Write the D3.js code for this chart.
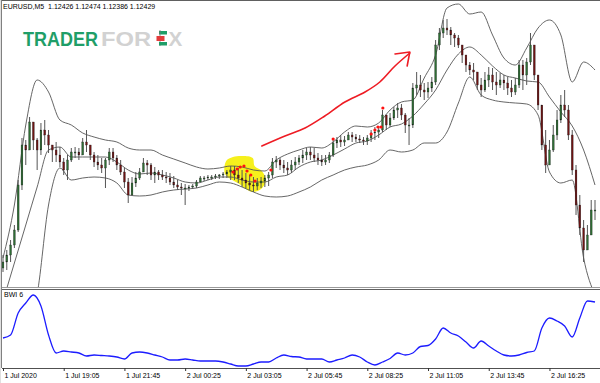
<!DOCTYPE html>
<html><head><meta charset="utf-8">
<script src="https://cdn.jsdelivr.net/npm/d3@7"></script>
<style>body{margin:0;background:#fff}svg{display:block;font-family:"Liberation Sans",Arial,sans-serif}</style>
</head><body><svg id="c" width="600" height="383"></svg>
<script>
// ---------- data ----------
const symbol = "EURUSD,M5";
const lastOHLC = [1.12426, 1.12474, 1.12386, 1.12429];
const indicatorName = "BWI 6";
const timeLabels = ["1 Jul 2020","1 Jul 19:05","1 Jul 21:45","2 Jul 00:25","2 Jul 03:05","2 Jul 05:45","2 Jul 08:25","2 Jul 11:05","2 Jul 13:45","2 Jul 16:25"];
const tickBars = [0,16,32,48,64,80,96,112,128,144];

const firstOpen = 1.1232;
const highs = [1.1245,1.1250,1.1260,1.1275,1.1320,1.1362,1.1360,1.1383,1.1378,1.1362,
1.1377,1.1380,1.1370,1.1355,1.1358,1.1353,1.1342,1.1345,1.1352,1.1353,
1.1352,1.1362,1.1370,1.1355,1.1348,1.1345,1.1342,1.1342,1.1352,1.1352,
1.1345,1.1340,1.1332,1.1322,1.1323,1.1328,1.1332,1.1342,1.1340,1.1337,
1.1333,1.1330,1.1330,1.1328,1.1327,1.1324,1.1320,1.1317,1.1316,1.1315,
1.1316,1.1320,1.1324,1.1324,1.1325,1.1325,1.1326,1.1326,1.1328,1.1330,
1.1334,1.1334,1.1332,1.1330,1.1327,1.1325,1.1323,1.1322,1.1323,1.1325,
1.1328,1.1342,1.1344,1.1342,1.1340,1.1338,1.1340,1.1343,1.1345,1.1350,
1.1352,1.1353,1.1352,1.1347,1.1345,1.1345,1.1348,1.1360,1.1363,1.1365,
1.1364,1.1368,1.1368,1.1366,1.1365,1.1363,1.1365,1.1370,1.1373,1.1374,
1.1390,1.1385,1.1387,1.1393,1.1397,1.1396,1.1387,1.1382,1.1417,1.1428,
1.1425,1.1417,1.1418,1.1423,1.1460,1.1472,1.1480,1.1481,1.1473,1.1467,
1.1465,1.1455,1.1442,1.1438,1.1437,1.1428,1.1422,1.1428,1.1433,1.1432,
1.1428,1.1427,1.1425,1.1423,1.1420,1.1422,1.1440,1.1440,1.1442,1.1467,
1.1455,1.1425,1.1395,1.1370,1.1360,1.1375,1.1390,1.1405,1.1410,1.1395,
1.1370,1.1335,1.1305,1.1280,1.1275,1.1300,1.1300];
const lows = [1.1228,1.1230,1.1238,1.1252,1.1268,1.1310,1.1335,1.1350,1.1350,1.1330,
1.1345,1.1355,1.1347,1.1338,1.1338,1.1333,1.1325,1.1320,1.1338,1.1342,
1.1340,1.1345,1.1348,1.1340,1.1333,1.1330,1.1327,1.1312,1.1335,1.1338,
1.1330,1.1325,1.1312,1.1297,1.1308,1.1313,1.1320,1.1328,1.1325,1.1320,
1.1317,1.1320,1.1320,1.1317,1.1315,1.1312,1.1310,1.1305,1.1295,1.1309,
1.1311,1.1312,1.1318,1.1319,1.1320,1.1320,1.1321,1.1321,1.1322,1.1322,
1.1320,1.1320,1.1317,1.1313,1.1312,1.1310,1.1308,1.1310,1.1312,1.1313,
1.1314,1.1322,1.1332,1.1330,1.1327,1.1325,1.1327,1.1330,1.1335,1.1337,
1.1340,1.1340,1.1338,1.1335,1.1334,1.1335,1.1337,1.1343,1.1352,1.1353,
1.1354,1.1360,1.1358,1.1358,1.1357,1.1355,1.1355,1.1358,1.1360,1.1362,
1.1368,1.1370,1.1373,1.1380,1.1382,1.1380,1.1367,1.1355,1.1372,1.1405,
1.1403,1.1400,1.1402,1.1408,1.1415,1.1450,1.1462,1.1465,1.1455,1.1453,
1.1452,1.1437,1.1428,1.1425,1.1420,1.1410,1.1403,1.1408,1.1413,1.1410,
1.1405,1.1412,1.1410,1.1405,1.1403,1.1405,1.1412,1.1410,1.1415,1.1435,
1.1420,1.1390,1.1350,1.1327,1.1335,1.1348,1.1360,1.1377,1.1383,1.1360,
1.1325,1.1285,1.1265,1.1238,1.1250,1.1265,1.1280];
const closes = [1.1238,1.1245,1.1255,1.1270,1.1315,1.1355,1.1350,1.1378,1.1360,1.1350,
1.1370,1.1365,1.1355,1.1350,1.1345,1.1338,1.1330,1.1340,1.1348,1.1348,
1.1345,1.1358,1.1355,1.1345,1.1338,1.1335,1.1332,1.1340,1.1348,1.1342,
1.1335,1.1328,1.1318,1.1305,1.1317,1.1322,1.1328,1.1337,1.1335,1.1325,
1.1328,1.1325,1.1323,1.1322,1.1318,1.1315,1.1313,1.1312,1.1312,1.1313,
1.1314,1.1318,1.1322,1.1322,1.1323,1.1323,1.1324,1.1325,1.1326,1.1328,
1.1330,1.1325,1.1322,1.1320,1.1317,1.1315,1.1314,1.1317,1.1319,1.1322,
1.1325,1.1338,1.1340,1.1335,1.1332,1.1330,1.1335,1.1338,1.1342,1.1345,
1.1348,1.1345,1.1342,1.1340,1.1338,1.1340,1.1345,1.1357,1.1360,1.1358,
1.1360,1.1365,1.1363,1.1361,1.1360,1.1359,1.1362,1.1367,1.1368,1.1370,
1.1385,1.1375,1.1382,1.1390,1.1392,1.1385,1.1375,1.1375,1.1412,1.1415,
1.1410,1.1408,1.1412,1.1418,1.1455,1.1467,1.1472,1.1470,1.1465,1.1462,
1.1455,1.1445,1.1435,1.1430,1.1428,1.1415,1.1410,1.1420,1.1425,1.1418,
1.1415,1.1420,1.1417,1.1412,1.1408,1.1415,1.1435,1.1425,1.1438,1.1455,
1.1425,1.1395,1.1355,1.1335,1.1350,1.1365,1.1380,1.1395,1.1390,1.1365,
1.1330,1.1295,1.1272,1.1250,1.1265,1.1290,1.1290];

// Bollinger bands, one value every 3 bars
const bandStep = 3;
const upperBand = [1.1242,1.1295,1.1375,1.1420,1.1408,1.1380,1.1375,1.1367,1.1363,1.1360,
1.1358,1.1352,1.1350,1.1350,1.1345,1.1341,1.1337,1.1333,1.1331,1.1332,
1.1334,1.1333,1.1330,1.1329,1.1340,1.1346,1.1350,1.1353,1.1352,1.1358,
1.1368,1.1374,1.1373,1.1377,1.1390,1.1398,1.1400,1.1422,1.1445,1.1492,
1.1496,1.1486,1.1488,1.1465,1.1442,1.1435,1.1452,1.1472,1.1480,1.1465,
1.1418,1.1438,1.1430];
const middleBand = [1.1199,1.1237,1.1275,1.1313,1.1350,1.1353,1.1343,1.1343,1.1343,1.1343,
1.1338,1.1330,1.1326,1.1327,1.1325,1.1322,1.1318,1.1317,1.1320,1.1323,
1.1323,1.1320,1.1318,1.1318,1.1323,1.1325,1.1333,1.1338,1.1340,1.1345,
1.1351,1.1357,1.1359,1.1365,1.1373,1.1376,1.1384,1.1396,1.1410,1.1430,
1.1446,1.1453,1.1445,1.1434,1.1425,1.1422,1.1419,1.1418,1.1403,1.1388,
1.1374,1.1350,1.1315];
const lowerBand = [1.1156,1.1165,1.1175,1.1206,1.1295,1.1332,1.1320,1.1322,1.1323,1.1322,
1.1317,1.1305,1.1304,1.1305,1.1308,1.1310,1.1311,1.1312,1.1315,1.1318,
1.1317,1.1313,1.1308,1.1304,1.1303,1.1304,1.1308,1.1313,1.1320,1.1325,
1.1330,1.1333,1.1335,1.1340,1.1350,1.1348,1.1350,1.1357,1.1357,1.1368,
1.1397,1.1423,1.1405,1.1400,1.1398,1.1397,1.1396,1.1385,1.1328,1.1317,
1.1320,1.1242,1.1205];

// BWI(6), one value every 2 bars
const bwiStep = 2;
const bwiValues = [30,33,55,65,73,62,33,15,17,16,15,12,13,12.5,12,11,9,15,16,15,
13,11,8,8,9,8,7,7,7,6,4,2,2,4,6,6,10,13,11.5,11,
9,9,9,6,8,10,13,11,6,3,6,9.5,15,13,15,21.5,22.5,29,40,35,
32,26,20,27,22,17,13,12,13,15.5,17,40,50,47,42,31,50,67,66];

// red signal dots
const signalBars = [60.6,61.7,62.5,63.5,64.3,65.3,66.4,70.6,87.0,97.0,98.0,98.8,99.6,100.1];
const signalPrices = [1.1328,1.1331,1.1333,1.1334,1.1329,1.1325,1.1319,1.1330,1.1361,1.1366,1.1370,1.1373,1.1373,1.1392];

// hand-drawn annotations (bar index / price)
const arrowBars = [68.2,74.3,79.6,84.8,90.1,95.4,99.3,103.3,107.2];
const arrowPrices = [1.1354,1.1364,1.1372,1.1384,1.1398,1.1408,1.1418,1.1434,1.1447];
const arrowHeadBars = [103.3,107.2,106.5];
const arrowHeadPrices = [1.1446,1.1448,1.1434];
const highlightBars = [58.8,60.6,63.2,65.8,66.3,68.2,69.3,68.0,65.8,64.0,62.3,60.4,58.5];
const highlightPrices = [1.1339,1.1343,1.1344,1.1342,1.1334,1.1329,1.1320,1.1311,1.1308,1.1311,1.1316,1.1320,1.1326];

// ---------- drawing ----------
const svg = d3.select("#c");
const x = d3.scaleLinear().domain([0, highs.length - 1]).range([3, 595]);
const y = d3.scaleLinear().domain([1.1213, 1.1500]).range([287, 0]);
const yb = d3.scaleLinear().domain([0, 78]).range([368, 290]);

const defs = svg.append("defs");
defs.append("clipPath").attr("id","cm").append("rect").attr("x",2).attr("y",1).attr("width",598).attr("height",286);
defs.append("clipPath").attr("id","cb").append("rect").attr("x",2).attr("y",290).attr("width",598).attr("height",78);

// frame
svg.append("line").attr("x1",2).attr("x2",600).attr("y1",0.5).attr("y2",0.5).attr("stroke","#606060");
svg.append("line").attr("x1",1.5).attr("x2",1.5).attr("y1",0).attr("y2",368).attr("stroke","#808080");
svg.append("rect").attr("x",0).attr("y",0).attr("width",1).attr("height",383).attr("fill","#e0e0e0");
svg.append("line").attr("x1",2).attr("x2",600).attr("y1",287.5).attr("y2",287.5).attr("stroke","#9a9a9a");
svg.append("line").attr("x1",2).attr("x2",600).attr("y1",289.5).attr("y2",289.5).attr("stroke","#606060");
svg.append("line").attr("x1",2).attr("x2",600).attr("y1",368.5).attr("y2",368.5).attr("stroke","#505050");

// watermark
const wm = svg.append("g");
wm.append("g").attr("transform","translate(23,46) scale(1,1.17)")
  .append("text").attr("x",0).attr("y",0).attr("font-size",18).attr("font-weight","bold")
  .attr("fill","#1f9e68").text("TRADER");
wm.append("g").attr("transform","translate(101,46) scale(1.32,1.17)")
  .append("text").attr("x",0).attr("y",0).attr("font-size",18).attr("font-weight","bold")
  .attr("fill","#d2d2d2").text("FOR");
wm.append("rect").attr("x",159).attr("y",31).attr("width",8).attr("height",3.5).attr("fill","#1f9e68");
wm.append("line").attr("x1",160).attr("x2",160).attr("y1",30).attr("y2",46).attr("stroke","#777").attr("stroke-width",0.8);
wm.append("rect").attr("x",156.5).attr("y",36).attr("width",8).attr("height",5).attr("fill","#e33b3b");
wm.append("rect").attr("x",159).attr("y",42).attr("width",8).attr("height",3.5).attr("fill","#1f9e68");
wm.append("g").attr("transform","translate(168.5,46) scale(1.15,1.17)")
  .append("text").attr("x",0).attr("y",0).attr("font-size",18).attr("font-weight","bold")
  .attr("fill","#d2d2d2").text("X");

// header
svg.append("text").attr("x",3).attr("y",9).attr("font-size",7).attr("fill","#000")
  .attr("xml:space","preserve")
  .text(symbol + "  " + lastOHLC.map(v => v.toFixed(5)).join(" "));

const main = svg.append("g").attr("clip-path","url(#cm)");

// yellow highlight
main.append("path").datum(d3.zip(highlightBars, highlightPrices))
  .attr("d", d3.line().x(d => x(d[0])).y(d => y(d[1])).curve(d3.curveCatmullRomClosed))
  .attr("fill","#f6f01c");

// bands
[upperBand, middleBand, lowerBand].forEach(b => {
  main.append("path").datum(b)
    .attr("d", d3.line().x((d,i) => x(i * bandStep)).y(d => y(d)).curve(d3.curveMonotoneX))
    .attr("fill","none").attr("stroke","#555").attr("stroke-width",0.9);
});

// candles
const opens = closes.map((c,i) => i === 0 ? firstOpen : closes[i-1]);
const cg = main.append("g");
cg.selectAll("line").data(highs).join("line")
  .attr("x1",(d,i) => x(i)).attr("x2",(d,i) => x(i))
  .attr("y1",d => y(d)).attr("y2",(d,i) => y(lows[i]))
  .attr("stroke","#555").attr("stroke-width",1);
cg.selectAll("rect").data(closes).join("rect")
  .attr("x",(d,i) => x(i) - 0.9).attr("width",1.8)
  .attr("y",(d,i) => y(Math.max(d, opens[i])))
  .attr("height",(d,i) => Math.max(1, Math.abs(y(d) - y(opens[i]))))
  .attr("fill",(d,i) => d >= opens[i] ? "#2e6e34" : "#6e1414")
  .attr("stroke","#1a1a1a").attr("stroke-width",0.3);

// signal dots
main.selectAll("circle.sig").data(signalBars).join("circle").attr("class","sig")
  .attr("cx",d => x(d)).attr("cy",(d,i) => y(signalPrices[i])).attr("r",1.6).attr("fill","#ff1010");

// red arrow
main.append("path").datum(d3.zip(arrowBars, arrowPrices))
  .attr("d", d3.line().x(d => x(d[0])).y(d => y(d[1])).curve(d3.curveCatmullRom))
  .attr("fill","none").attr("stroke","#ee1c24").attr("stroke-width",1.6).attr("stroke-linecap","round");
main.append("path").datum(d3.zip(arrowHeadBars, arrowHeadPrices))
  .attr("d", d3.line().x(d => x(d[0])).y(d => y(d[1])))
  .attr("fill","none").attr("stroke","#ee1c24").attr("stroke-width",1.6).attr("stroke-linecap","round").attr("stroke-linejoin","round");

// BWI panel
svg.append("text").attr("x",4).attr("y",297).attr("font-size",7).attr("fill","#000").text(indicatorName);
svg.append("g").attr("clip-path","url(#cb)").append("path").datum(bwiValues)
  .attr("d", d3.line().x((d,i) => x(i * bwiStep)).y(d => yb(d)).curve(d3.curveMonotoneX))
  .attr("fill","none").attr("stroke","#1c1cff").attr("stroke-width",1.3);

// time axis
const ax = svg.append("g").attr("transform","translate(0,368)")
  .call(d3.axisBottom(x).tickValues(tickBars).tickFormat((d,i) => timeLabels[i]).tickSize(3).tickPadding(2));
ax.select(".domain").remove();
ax.selectAll("line").attr("stroke","#333");
ax.selectAll("text").attr("text-anchor","start").attr("x",1).attr("font-size",7)
  .attr("font-family","Liberation Sans, Arial, sans-serif").attr("fill","#000");
</script></body></html>
